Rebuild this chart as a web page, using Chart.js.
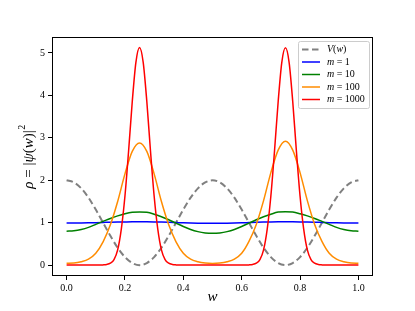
<!DOCTYPE html>
<html>
<head>
<meta charset="utf-8">
<script src="https://cdn.jsdelivr.net/npm/chart.js@4"></script>
<style>
  html, body { margin: 0; padding: 0; background: #fff; }
  #wrap { width: 415px; height: 311px; }
</style>
</head>
<body>
<div id="wrap"><canvas id="chart" width="415" height="311"></canvas></div>
<script>
// grid used by the smooth curves
const wCoarse = [0, 0.025, 0.05, 0.075, 0.1, 0.125, 0.15, 0.175, 0.2, 0.225,
  0.25, 0.275, 0.3, 0.325, 0.35, 0.375, 0.4, 0.425, 0.45, 0.475,
  0.5, 0.525, 0.55, 0.575, 0.6, 0.625, 0.65, 0.675, 0.7, 0.725,
  0.75, 0.775, 0.8, 0.825, 0.85, 0.875, 0.9, 0.925, 0.95, 0.975, 1.0];
// finer grid for the narrow m=1000 peaks
const wFine = [0, 0.0125, 0.025, 0.0375, 0.05, 0.0625, 0.075, 0.0875, 0.1, 0.1125,
  0.125, 0.1375, 0.15, 0.1625, 0.175, 0.1875, 0.2, 0.2125, 0.225, 0.2375,
  0.25, 0.2625, 0.275, 0.2875, 0.3, 0.3125, 0.325, 0.3375, 0.35, 0.3625,
  0.375, 0.3875, 0.4, 0.4125, 0.425, 0.4375, 0.45, 0.4625, 0.475, 0.4875,
  0.5, 0.5125, 0.525, 0.5375, 0.55, 0.5625, 0.575, 0.5875, 0.6, 0.6125,
  0.625, 0.6375, 0.65, 0.6625, 0.675, 0.6875, 0.7, 0.7125, 0.725, 0.7375,
  0.75, 0.7625, 0.775, 0.7875, 0.8, 0.8125, 0.825, 0.8375, 0.85, 0.8625,
  0.875, 0.8875, 0.9, 0.9125, 0.925, 0.9375, 0.95, 0.9625, 0.975, 0.9875, 1.0];

const potential = [2.0, 1.95, 1.81, 1.59, 1.31, 1.0, 0.69, 0.41, 0.19, 0.05,
  0.0, 0.05, 0.19, 0.41, 0.69, 1.0, 1.31, 1.59, 1.81, 1.95,
  2.0, 1.95, 1.81, 1.59, 1.31, 1.0, 0.69, 0.41, 0.19, 0.05,
  0.0, 0.05, 0.19, 0.41, 0.69, 1.0, 1.31, 1.59, 1.81, 1.95, 2.0];
const rhoM1 = [0.99, 0.99, 0.992, 0.996, 1.001, 1.006, 1.011, 1.015, 1.018, 1.02,
  1.02, 1.02, 1.018, 1.014, 1.009, 1.003, 0.997, 0.992, 0.988, 0.986,
  0.985, 0.986, 0.988, 0.992, 0.997, 1.003, 1.009, 1.014, 1.018, 1.02,
  1.021, 1.02, 1.018, 1.015, 1.011, 1.006, 1.001, 0.996, 0.992, 0.99, 0.99];
const rhoM10 = [0.80, 0.81, 0.84, 0.89, 0.96, 1.03, 1.10, 1.16, 1.21, 1.245,
  1.255, 1.245, 1.20, 1.14, 1.07, 0.99, 0.91, 0.84, 0.79, 0.76,
  0.75, 0.76, 0.79, 0.84, 0.91, 0.99, 1.07, 1.14, 1.20, 1.25,
  1.26, 1.25, 1.21, 1.16, 1.10, 1.03, 0.96, 0.89, 0.84, 0.81, 0.80];
const rhoM100 = [0.045, 0.05, 0.08, 0.14, 0.28, 0.55, 0.95, 1.5, 2.15, 2.68,
  2.88, 2.68, 2.15, 1.5, 0.95, 0.55, 0.28, 0.14, 0.08, 0.05,
  0.04, 0.05, 0.08, 0.14, 0.28, 0.56, 0.96, 1.52, 2.18, 2.71,
  2.92, 2.71, 2.18, 1.52, 0.96, 0.56, 0.28, 0.14, 0.08, 0.05, 0.045];
const rhoM1000 = [0.002, 0.002, 0.002, 0.002, 0.002, 0.002, 0.002, 0.002, 0.002, 0.003,
  0.006, 0.016, 0.045, 0.13, 0.36, 0.85, 1.63, 2.69, 3.85, 4.78,
  5.13, 4.78, 3.85, 2.69, 1.63, 0.85, 0.36, 0.13, 0.045, 0.016,
  0.006, 0.003, 0.002, 0.002, 0.002, 0.002, 0.002, 0.002, 0.002, 0.002,
  0.002, 0.002, 0.002, 0.002, 0.002, 0.002, 0.002, 0.002, 0.002, 0.003,
  0.006, 0.016, 0.045, 0.13, 0.36, 0.85, 1.63, 2.69, 3.85, 4.78,
  5.12, 4.78, 3.85, 2.69, 1.63, 0.85, 0.36, 0.13, 0.045, 0.016,
  0.006, 0.003, 0.002, 0.002, 0.002, 0.002, 0.002, 0.002, 0.002, 0.002, 0.002];

const xTicks = [0, 0.2, 0.4, 0.6, 0.8, 1.0];
const yTicks = [0, 1, 2, 3, 4, 5];

const serif = '"Liberation Serif", "DejaVu Serif", serif';

const pts = (xs, ys) => xs.map((x, i) => ({ x: x, y: ys[i] }));

// legend entries: [text, italic?] pieces
const legendItems = [
  { label: [['V', true], ['(', false], ['w', true], [')', false]], color: '#808080', dash: [6.5, 3.5], width: 2 },
  { label: [['m', true], [' = 1', false]], color: '#0000ff', dash: [], width: 1.5 },
  { label: [['m', true], [' = 10', false]], color: '#008000', dash: [], width: 1.5 },
  { label: [['m', true], [' = 100', false]], color: '#ff8c00', dash: [], width: 1.5 },
  { label: [['m', true], [' = 1000', false]], color: '#ff0000', dash: [], width: 1.5 },
];

function drawPieces(ctx, pieces, x, y, size) {
  pieces.forEach(([t, it]) => {
    ctx.font = (it ? 'italic ' : '') + size + 'px ' + serif;
    ctx.fillText(t, x, y);
    x += ctx.measureText(t).width;
  });
  return x;
}
function piecesWidth(ctx, pieces, size) {
  let w = 0;
  pieces.forEach(([t, it]) => {
    ctx.font = (it ? 'italic ' : '') + size + 'px ' + serif;
    w += ctx.measureText(t).width;
  });
  return w;
}

const decor = {
  id: 'decor',
  afterDraw(chart) {
    const ctx = chart.ctx;
    const a = chart.chartArea;
    ctx.save();
    // frame
    ctx.strokeStyle = '#000';
    ctx.lineWidth = 1;
    ctx.strokeRect(Math.round(a.left) + 0.5, Math.round(a.top) + 0.5,
      Math.round(a.right - a.left) - 1, Math.round(a.bottom - a.top) - 1);

    // legend box
    const bx = 298, by = 41, bw = 71, bh = 67;
    ctx.fillStyle = 'rgba(255,255,255,0.8)';
    ctx.strokeStyle = '#cccccc';
    ctx.lineWidth = 1;
    ctx.beginPath();
    ctx.roundRect(bx + 0.5, by + 0.5, bw, bh, 2);
    ctx.fill();
    ctx.stroke();
    ctx.textBaseline = 'middle';
    legendItems.forEach((it, i) => {
      const y = by + 8.5 + i * 12.5;
      ctx.strokeStyle = it.color;
      ctx.lineWidth = it.width;
      ctx.setLineDash(it.dash);
      ctx.beginPath();
      ctx.moveTo(bx + 4, y);
      ctx.lineTo(bx + 22, y);
      ctx.stroke();
      ctx.setLineDash([]);
      ctx.fillStyle = '#000';
      drawPieces(ctx, it.label, bx + 29, y, 10);
    });

    // axis titles
    ctx.fillStyle = '#000';
    ctx.textBaseline = 'alphabetic';
    ctx.font = 'italic 15px ' + serif;
    ctx.textAlign = 'center';
    ctx.fillText('w', (a.left + a.right) / 2, 301);
    ctx.textAlign = 'left';
    const yl = [['ρ', true], [' = |', false], ['ψ', true], ['(', false], ['w', true], [')|', false]];
    const tw = piecesWidth(ctx, yl, 15) + 6;
    ctx.translate(33, (a.top + a.bottom) / 2);
    ctx.rotate(-Math.PI / 2);
    const endX = drawPieces(ctx, yl, -tw / 2, 0, 15);
    ctx.font = '10px ' + serif;
    ctx.fillText('2', endX + 0.5, -8);
    ctx.restore();
  }
};

const ctx = document.getElementById('chart').getContext('2d');
new Chart(ctx, {
  type: 'line',
  data: {
    datasets: [
      { label: 'V(w)', data: pts(wCoarse, potential), borderColor: '#808080', borderWidth: 2, borderDash: [6.5, 3.5], order: 5 },
      { label: 'm = 1', data: pts(wCoarse, rhoM1), borderColor: '#0000ff', borderWidth: 1.5, order: 4 },
      { label: 'm = 10', data: pts(wCoarse, rhoM10), borderColor: '#008000', borderWidth: 1.5, order: 3 },
      { label: 'm = 100', data: pts(wCoarse, rhoM100), borderColor: '#ff8c00', borderWidth: 1.5, order: 2 },
      { label: 'm = 1000', data: pts(wFine, rhoM1000), borderColor: '#ff0000', borderWidth: 1.5, order: 1 },
    ],
  },
  options: {
    responsive: false,
    animation: false,
    events: [],
    elements: {
      point: { radius: 0 },
      line: { cubicInterpolationMode: 'monotone', fill: false },
    },
    layout: { padding: { left: 0, top: 37, right: 42, bottom: 0 } },
    plugins: { legend: { display: false }, tooltip: { enabled: false } },
    scales: {
      x: {
        type: 'linear',
        min: -0.05,
        max: 1.05,
        afterBuildTicks: (s) => { s.ticks = xTicks.map(v => ({ value: v })); },
        afterFit: (s) => { s.height = 35; },
        grid: { display: true, drawOnChartArea: false, tickLength: 4, tickColor: '#000', tickWidth: 1 },
        border: { display: false },
        ticks: {
          color: '#000', padding: 2, maxRotation: 0,
          font: { family: serif, size: 10 },
          callback: (v) => v.toFixed(1),
        },
      },
      y: {
        type: 'linear',
        min: -0.256,
        max: 5.376,
        afterBuildTicks: (s) => { s.ticks = yTicks.map(v => ({ value: v })); },
        afterFit: (s) => { s.width = 52; },
        grid: { display: true, drawOnChartArea: false, tickLength: 4, tickColor: '#000', tickWidth: 1 },
        border: { display: false },
        ticks: {
          color: '#000', padding: 3,
          font: { family: serif, size: 10 },
          callback: (v) => String(v),
        },
      },
    },
  },
  plugins: [decor],
});
</script>
</body>
</html>
